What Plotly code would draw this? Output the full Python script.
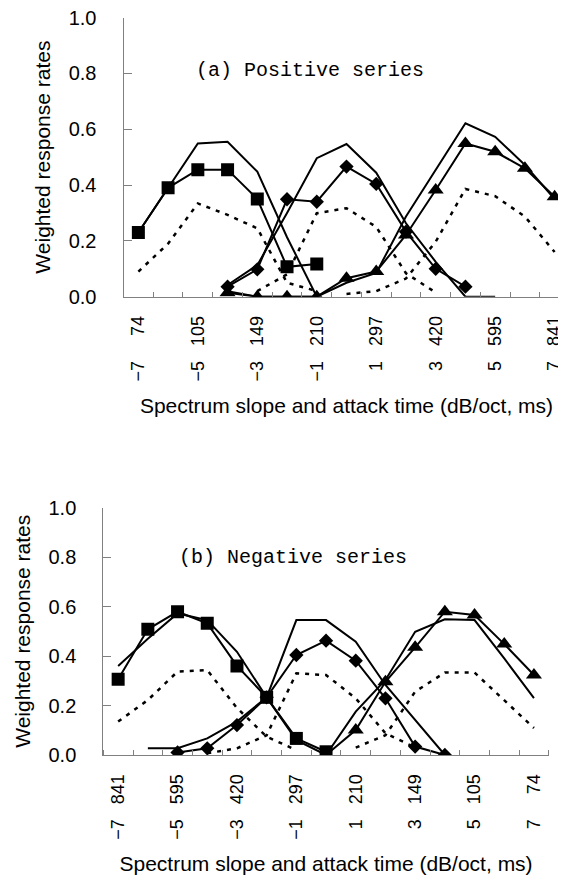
import plotly.graph_objects as go

# ---------------- data ----------------
tick_vals = [-7, -5, -3, -1, 1, 3, 5, 7]
pos_ticktext = ["−7", "−5", "−3", "−1", "1", "3", "5", "7"]
pos_ms = ["74", "105", "149", "210", "297", "420", "595", "841"]
neg_ticktext = ["−7", "−5", "−3", "−1", "1", "3", "5", "7"]
neg_ms = ["841", "595", "420", "297", "210", "149", "105", "74"]

# (a) Positive series
pos_sq_x = [-7, -6, -5, -4, -3, -2, -1]
pos_sq = [0.23, 0.39, 0.455, 0.455, 0.35, 0.107, 0.117]
pos_sq_model = [0.23, 0.39, 0.549, 0.555, 0.448, 0.213, 0.0]
pos_sq_dot = [0.09, 0.19, 0.334, 0.293, 0.245, 0.05, 0.02]

pos_di_x = [-4, -3, -2, -1, 0, 1, 2, 3, 4]
pos_di = [0.036, 0.098, 0.349, 0.34, 0.466, 0.404, 0.233, 0.10, 0.036]
pos_di_model_x = [-4, -3, -2, -1, 0, 1, 2, 3, 4, 5]
pos_di_model = [0.042, 0.113, 0.30, 0.496, 0.547, 0.444, 0.263, 0.125, 0.0, 0.0]
pos_di_dot_x = [-3, -2, -1, 0, 1, 2, 3]
pos_di_dot = [0.02, 0.08, 0.299, 0.317, 0.25, 0.084, 0.015]

pos_tr_x = [-4, -3, -2, -1, 0, 1, 2, 3, 4, 5, 6, 7]
pos_tr = [0.014, 0.0, 0.0, 0.0, 0.066, 0.09, 0.221, 0.382, 0.549, 0.519, 0.46, 0.358]
pos_tr_model = [0.02, 0.0, 0.0, 0.0, 0.05, 0.085, 0.287, 0.454, 0.621, 0.573, 0.472, 0.35]
pos_tr_dot_x = [0, 1, 2, 3, 4, 5, 6, 7]
pos_tr_dot = [0.01, 0.02, 0.065, 0.197, 0.386, 0.36, 0.287, 0.16]

# (b) Negative series
neg_sq_x = [-7, -6, -5, -4, -3, -2, -1, 0]
neg_sq = [0.306, 0.508, 0.579, 0.532, 0.36, 0.233, 0.067, 0.013]
neg_sq_model = [0.36, 0.47, 0.572, 0.545, 0.417, 0.233, 0.06, 0.0]
neg_sq_dot_x = [-7, -6, -5, -4, -3, -2, -1]
neg_sq_dot = [0.135, 0.222, 0.337, 0.343, 0.19, 0.074, 0.02]

neg_di_x = [-5, -4, -3, -2, -1, 0, 1, 2, 3, 4]
neg_di = [0.01, 0.027, 0.121, 0.233, 0.404, 0.462, 0.381, 0.229, 0.034, 0.0]
neg_di_model_x = [-6, -5, -4, -3, -2, -1, 0, 1, 2, 3, 4]
neg_di_model = [0.027, 0.027, 0.067, 0.135, 0.233, 0.545, 0.545, 0.458, 0.283, 0.141, 0.0]
neg_di_dot_x = [-4, -3, -2, -1, 0, 1, 2, 3]
neg_di_dot = [0.007, 0.027, 0.08, 0.33, 0.323, 0.229, 0.088, 0.03]

neg_tr_x = [0, 1, 2, 3, 4, 5, 6, 7]
neg_tr = [0.0, 0.101, 0.296, 0.435, 0.579, 0.566, 0.448, 0.323]
neg_tr_model = [0.0, 0.175, 0.303, 0.498, 0.548, 0.545, 0.39, 0.23]
neg_tr_dot_x = [1, 2, 3, 4, 5, 6, 7]
neg_tr_dot = [0.03, 0.08, 0.256, 0.333, 0.333, 0.222, 0.109]

# ---------------- styling ----------------
W, H = 566, 879
OFF = 8  # the page body adds an 8px margin; lay out in window pixels
SANS = "Liberation Sans, Arial, sans-serif"
MONO = "Liberation Mono, DejaVu Sans Mono, monospace"
NB = "\u00a0"


def px_x(v):
    return (v - OFF) / W


def px_y(v):
    return 1 - (v - OFF) / H


def make_labels(dbs, mss):
    out = []
    for d, m in zip(dbs, mss):
        pad = NB * 3 if len(m) == 3 else NB * 5
        out.append(d + pad + m)
    return out


fig = go.Figure()


def model(x, y, xa, ya):
    fig.add_trace(go.Scatter(x=x, y=y, mode="lines", xaxis=xa, yaxis=ya,
                             line=dict(color="black", width=2), hoverinfo="skip"))


def dotted(x, y, xa, ya):
    fig.add_trace(go.Scatter(x=x, y=y, mode="lines", xaxis=xa, yaxis=ya,
                             line=dict(color="black", width=2.5, dash="4px,6px"),
                             hoverinfo="skip"))


def data(x, y, xa, ya, symbol, size):
    fig.add_trace(go.Scatter(x=x, y=y, mode="lines+markers", xaxis=xa, yaxis=ya,
                             line=dict(color="black", width=2),
                             marker=dict(symbol=symbol, size=size, color="black")))


# panel (a)
dotted(pos_sq_x, pos_sq_dot, "x", "y")
dotted(pos_di_dot_x, pos_di_dot, "x", "y")
dotted(pos_tr_dot_x, pos_tr_dot, "x", "y")
model(pos_sq_x, pos_sq_model, "x", "y")
model(pos_di_model_x, pos_di_model, "x", "y")
model(pos_tr_x, pos_tr_model, "x", "y")
data(pos_sq_x, pos_sq, "x", "y", "square", 13)
data(pos_di_x, pos_di, "x", "y", "diamond", 11)
data(pos_tr_x, pos_tr, "x", "y", "triangle-up", 14)

# panel (b)
dotted(neg_sq_dot_x, neg_sq_dot, "x2", "y2")
dotted(neg_di_dot_x, neg_di_dot, "x2", "y2")
dotted(neg_tr_dot_x, neg_tr_dot, "x2", "y2")
model(neg_sq_x, neg_sq_model, "x2", "y2")
model(neg_di_model_x, neg_di_model, "x2", "y2")
model(neg_tr_x, neg_tr_model, "x2", "y2")
data(neg_sq_x, neg_sq, "x2", "y2", "square", 13)
data(neg_di_x, neg_di, "x2", "y2", "diamond", 11)
data(neg_tr_x, neg_tr, "x2", "y2", "triangle-up", 14)

axis_col = "#808080"


def xaxis_cfg(domain, rng, anchor, ticktext, title, title_standoff):
    return dict(
        domain=domain, range=rng, anchor=anchor, automargin=False,
        showgrid=False, zeroline=False,
        showline=True, linecolor=axis_col, linewidth=1,
        tickmode="array", tickvals=tick_vals, ticktext=ticktext,
        ticks="", tickangle=-90, ticklabelstandoff=11, ticklabeloverflow="allow",
        tickfont=dict(family=SANS, size=18, color="black"),
        minor=dict(tickmode="linear", tick0=-7.5, dtick=1, ticks="inside",
                   ticklen=5, tickcolor=axis_col, tickwidth=1, showgrid=False),
        title=dict(text=title, font=dict(family=SANS, size=21, color="black"),
                   standoff=title_standoff),
    )


def yaxis_cfg(domain, anchor):
    return dict(
        domain=domain, range=[0, 1], anchor=anchor, automargin=False,
        showgrid=False, zeroline=False,
        showline=True, linecolor=axis_col, linewidth=1,
        tickmode="array", tickvals=[0, 0.2, 0.4, 0.6, 0.8, 1.0], tickformat=".1f",
        ticks="inside", ticklen=8, tickcolor=axis_col, ticklabelstandoff=22,
        ticklabeloverflow="allow",
        tickfont=dict(family=SANS, size=20, color="black"),
        title=dict(text="Weighted response rates",
                   font=dict(family=SANS, size=21, color="black"), standoff=12),
    )


xt = "Spectrum slope and attack time (dB/oct, ms)"
fig.update_layout(
    width=W, height=H,
    margin=dict(l=0, r=0, t=0, b=0, autoexpand=False),
    paper_bgcolor="white", plot_bgcolor="white",
    showlegend=False,
    xaxis=xaxis_cfg([px_x(123.5), px_x(569.5)], [-7.5, 7.5], "y",
                    make_labels(pos_ticktext, pos_ms), xt, 17),
    yaxis=yaxis_cfg([px_y(296.7), px_y(17.5)], "x"),
    xaxis2=xaxis_cfg([px_x(103.3), px_x(548.8)], [-7.5, 7.5], "y2",
                     make_labels(neg_ticktext, neg_ms), xt, 17),
    yaxis2=yaxis_cfg([px_y(755), px_y(507.5)], "x2"),
    annotations=[
        dict(text="(a) Positive series", x=px_x(310), y=px_y(71), xref="paper", yref="paper",
             xanchor="center", yanchor="middle",
             showarrow=False, font=dict(family=MONO, size=20, color="black")),
        dict(text="(b) Negative series", x=px_x(293), y=px_y(557), xref="paper", yref="paper",
             xanchor="center", yanchor="middle",
             showarrow=False, font=dict(family=MONO, size=20, color="black")),
    ],
)

fig.write_html("out.html")
